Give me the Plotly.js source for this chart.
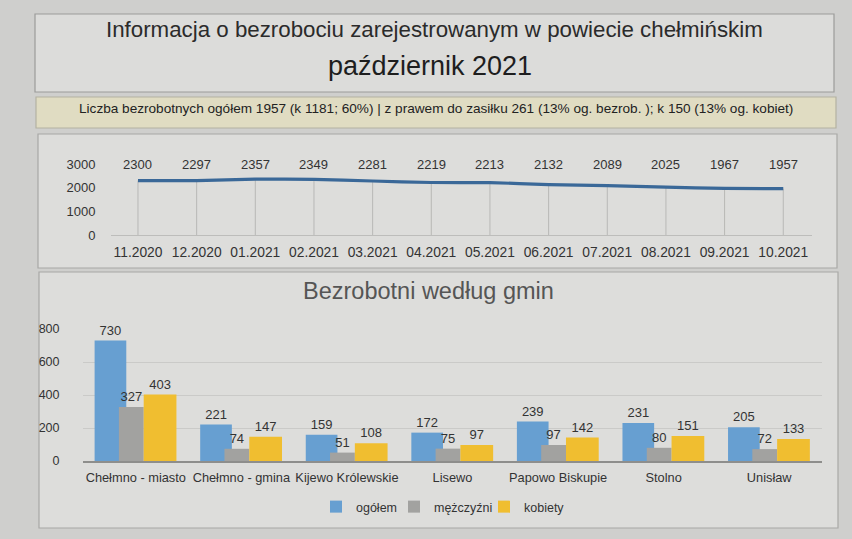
<!DOCTYPE html>
<html>
<head>
<meta charset="utf-8">
<script src="https://cdn.plot.ly/plotly-3.0.1.min.js"></script>
<style>html,body{margin:0;padding:0;background:#cfcfcd;}#chart{width:852px;height:539px;}</style>
</head>
<body>
<div id="chart"></div>
<script>
// ---- data ----
const months = ['11.2020','12.2020','01.2021','02.2021','03.2021','04.2021','05.2021','06.2021','07.2021','08.2021','09.2021','10.2021'];
const unemployed = [2300,2297,2357,2349,2281,2219,2213,2132,2089,2025,1967,1957];
const lineTicks = [0,1000,2000,3000];

const gminy = ['Chełmno - miasto','Chełmno - gmina','Kijewo Królewskie','Lisewo','Papowo Biskupie','Stolno','Unisław'];
const ogolem = [730,221,159,172,239,231,205];
const mezczyzni = [327,74,51,75,97,80,72];
const kobiety = [403,147,108,97,142,151,133];
const barTicks = [0,200,400,600,800];

const seriesNames = ['ogółem','mężczyźni','kobiety'];

const titleText = 'Informacja o bezrobociu zarejestrowanym w powiecie chełmińskim';
const periodText = 'październik 2021';
const summaryText = 'Liczba bezrobotnych ogółem 1957 (k 1181; 60%) | z prawem do zasiłku 261 (13% og. bezrob. ); k 150 (13% og. kobiet)';
const barTitle = 'Bezrobotni według gmin';

// ---- helpers for pixel -> paper ----
const W = 852, H = 539;
const px = v => v / W;
const py = v => 1 - v / H;
const FONT = 'Liberation Sans, Arial, sans-serif';
const labelFont = {family: FONT, size: 13, color: '#333'};

const traces = [
  {
    type: 'scatter', mode: 'lines', x: months, y: unemployed,
    xaxis: 'x', yaxis: 'y', showlegend: false, hoverinfo: 'x+y',
    line: {color: '#3a6898', width: 3.2, shape: 'spline', smoothing: 0.6},
    error_y: {type: 'data', symmetric: false, array: unemployed.map(() => 0), arrayminus: unemployed, color: '#b8b8b6', thickness: 1, width: 0}
  },
  {
    type: 'bar', x: gminy, y: ogolem, name: seriesNames[0], xaxis: 'x2', yaxis: 'y2', legend: 'legend',
    offset: -0.39, width: 0.30, marker: {color: '#679fd1'},
    text: ogolem.map(String), textposition: 'outside', cliponaxis: false, textfont: labelFont
  },
  {
    type: 'bar', x: gminy, y: mezczyzni, name: seriesNames[1], xaxis: 'x2', yaxis: 'y2', legend: 'legend2',
    offset: -0.16, width: 0.235, marker: {color: '#a2a2a0'},
    text: mezczyzni.map(String), textposition: 'outside', cliponaxis: false, textfont: labelFont
  },
  {
    type: 'bar', x: gminy, y: kobiety, name: seriesNames[2], xaxis: 'x2', yaxis: 'y2', legend: 'legend3',
    offset: 0.075, width: 0.31, marker: {color: '#f0be30'},
    text: kobiety.map(String), textposition: 'outside', cliponaxis: false, textfont: labelFont
  }
];

const annotations = [
  {xref: 'paper', yref: 'paper', x: px(434), y: py(29), text: titleText, showarrow: false,
   font: {family: FONT, size: 22.3, color: '#2b2b2b'}, xanchor: 'center', yanchor: 'middle'},
  {xref: 'paper', yref: 'paper', x: px(430), y: py(66), text: periodText, showarrow: false,
   font: {family: FONT, size: 27, color: '#1e1e1e'}, xanchor: 'center', yanchor: 'middle'},
  {xref: 'paper', yref: 'paper', x: px(436), y: py(109), text: summaryText, showarrow: false,
   font: {family: FONT, size: 13.6, color: '#222'}, xanchor: 'center', yanchor: 'middle'},
  {xref: 'paper', yref: 'paper', x: px(428), y: py(291), text: barTitle, showarrow: false,
   font: {family: FONT, size: 23.5, color: '#555'}, xanchor: 'center', yanchor: 'middle'}
];
// value labels above the line chart, one per month (x given as category index)
unemployed.forEach((v, i) => {
  annotations.push({xref: 'x', yref: 'y', x: i, y: 3000, text: String(v), showarrow: false,
    font: labelFont, xanchor: 'center', yanchor: 'middle'});
});

const shapes = [
  {type: 'rect', xref: 'paper', yref: 'paper', x0: px(35), x1: px(834), y0: py(14), y1: py(92),
   fillcolor: '#dcdcda', line: {color: '#9c9c9a', width: 1.2}, layer: 'below'},
  {type: 'rect', xref: 'paper', yref: 'paper', x0: px(36), x1: px(836), y0: py(97), y1: py(128),
   fillcolor: '#e0dcc2', line: {color: '#b4b2a2', width: 1.2}, layer: 'below'},
  {type: 'rect', xref: 'paper', yref: 'paper', x0: px(38), x1: px(837), y0: py(134), y1: py(268),
   fillcolor: '#dddddb', line: {color: '#a8a8a6', width: 1.2}, layer: 'below'},
  {type: 'rect', xref: 'paper', yref: 'paper', x0: px(39), x1: px(838), y0: py(272), y1: py(528),
   fillcolor: '#dddddb', line: {color: '#a8a8a6', width: 1.2}, layer: 'below'}
];

const legendBase = {
  orientation: 'h', xanchor: 'left', y: py(507), yanchor: 'middle',
  bgcolor: 'rgba(0,0,0,0)', font: {family: FONT, size: 12.5, color: '#333'}, itemwidth: 30
};

const layout = {
  width: W, height: H,
  margin: {l: 0, r: 0, t: 0, b: 0},
  paper_bgcolor: '#cfcfcd',
  plot_bgcolor: 'rgba(0,0,0,0)',
  font: {family: FONT, color: '#333'},
  showlegend: true,
  barmode: 'overlay',
  xaxis: {
    domain: [px(111), px(812)], anchor: 'y', type: 'category',
    range: [-0.46, 11.49], showgrid: false, zeroline: false,
    showline: true, linecolor: '#bdbdbb', linewidth: 1,
    ticks: 'outside', ticklen: 4, tickcolor: 'rgba(0,0,0,0)',
    tickfont: {family: FONT, size: 13.8, color: '#333'}
  },
  yaxis: {
    domain: [py(235), py(164)], anchor: 'x', range: [0, 3000],
    tickvals: lineTicks, showgrid: false, zeroline: false,
    ticks: 'outside', ticklen: 12, tickcolor: 'rgba(0,0,0,0)',
    tickfont: {family: FONT, size: 13, color: '#333'}
  },
  xaxis2: {
    domain: [px(83), px(822)], anchor: 'y2', type: 'category',
    range: [-0.5, 6.5], showgrid: false, zeroline: false,
    showline: true, linecolor: '#8e8e8c', linewidth: 2,
    ticks: 'outside', ticklen: 4, tickcolor: 'rgba(0,0,0,0)',
    tickfont: {family: FONT, size: 12.8, color: '#333'}
  },
  yaxis2: {
    domain: [py(461), py(329)], anchor: 'x2', range: [0, 800],
    tickvals: barTicks, showgrid: true, gridcolor: '#cacac8', gridwidth: 1,
    zeroline: false, ticks: 'outside', ticklen: 20, tickcolor: 'rgba(0,0,0,0)',
    tickfont: {family: FONT, size: 12.5, color: '#333'}
  },
  legend: Object.assign({}, legendBase, {x: px(316)}),
  legend2: Object.assign({}, legendBase, {x: px(394)}),
  legend3: Object.assign({}, legendBase, {x: px(484)}),
  annotations: annotations,
  shapes: shapes
};

Plotly.newPlot('chart', traces, layout, {displayModeBar: false, staticPlot: true});
</script>
</body>
</html>
